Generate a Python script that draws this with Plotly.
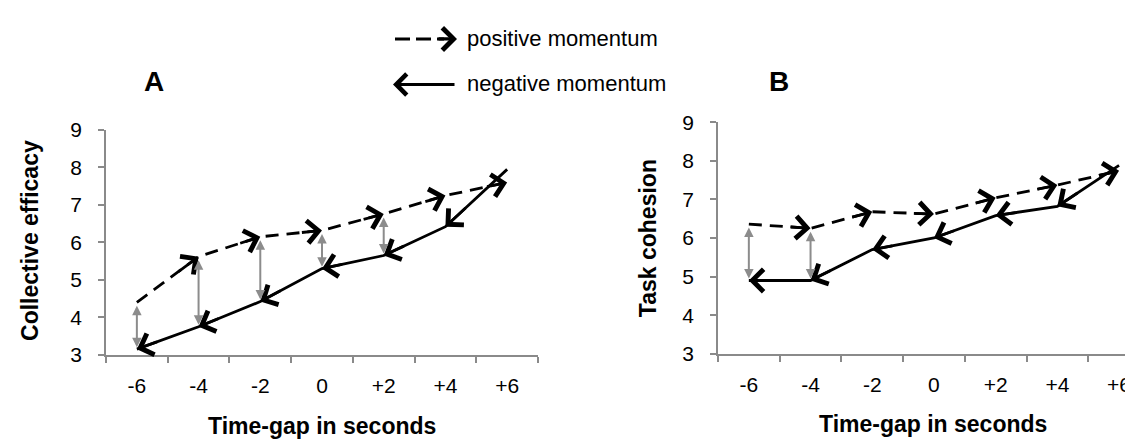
import plotly.graph_objects as go

# ---------------- data ----------------
categories = ["-6", "-4", "-2", "0", "+2", "+4", "+6"]
y_tick_values = [3, 4, 5, 6, 7, 8, 9]

a_positive = [4.40, 5.62, 6.15, 6.32, 6.76, 7.25, 7.60]
a_negative = [3.15, 3.75, 4.42, 5.30, 5.65, 6.42, 7.95]
a_gap_categories = ["-6", "-4", "-2", "0", "+2"]

b_positive = [6.36, 6.25, 6.68, 6.62, 7.04, 7.37, 7.74]
b_negative = [4.90, 4.90, 5.70, 6.00, 6.58, 6.82, 7.88]
b_gap_categories = ["-6", "-4"]

panel_labels = ["A", "B"]
y_titles = ["Collective efficacy", "Task cohesion"]
x_title = "Time-gap in seconds"
legend_labels = ["positive momentum", "negative momentum"]

# ---------------- layout constants ----------------
W, H = 1133, 446
FONT = "Liberation Sans, Arial, sans-serif"
AXIS_GREY = "#8a8a8a"
ARROW_GREY = "#8c8c8c"
DASH = "13px,8px"
CAT_PX = 61.7


def px_x(p):
    return p / W


def px_y(p):
    return 1 - p / H


fig = go.Figure()

panels = [
    dict(pos=a_positive, neg=a_negative, gaps=a_gap_categories, xa="x", ya="y"),
    dict(pos=b_positive, neg=b_negative, gaps=b_gap_categories, xa="x2", ya="y2"),
]

annotations = []
TINY = dict(size=2, color="black")
HEAD = dict(arrowhead=4, arrowwidth=2.8, arrowsize=1.55, arrowcolor="black")

for p in panels:
    fig.add_trace(go.Scatter(
        x=categories, y=p["pos"], mode="lines", xaxis=p["xa"], yaxis=p["ya"],
        line=dict(color="black", width=2.8, dash=DASH), cliponaxis=False,
        showlegend=False, hoverinfo="skip"))
    fig.add_trace(go.Scatter(
        x=categories, y=p["neg"], mode="lines", xaxis=p["xa"], yaxis=p["ya"],
        line=dict(color="black", width=2.8), cliponaxis=False,
        showlegend=False, hoverinfo="skip"))

    n = len(categories)
    f = 0.35
    for i in range(1, n):
        tip = (i, p["pos"][i])
        prev = (i - 1, p["pos"][i - 1])
        annotations.append(dict(
            x=tip[0], y=tip[1], ax=tip[0] + f * (prev[0] - tip[0]),
            ay=tip[1] + f * (prev[1] - tip[1]),
            xref=p["xa"], yref=p["ya"], axref=p["xa"], ayref=p["ya"],
            text="", font=TINY, showarrow=True, **HEAD))
    for i in range(n - 2, -1, -1):
        tip = (i, p["neg"][i])
        prev = (i + 1, p["neg"][i + 1])
        annotations.append(dict(
            x=tip[0], y=tip[1], ax=tip[0] + f * (prev[0] - tip[0]),
            ay=tip[1] + f * (prev[1] - tip[1]),
            xref=p["xa"], yref=p["ya"], axref=p["xa"], ayref=p["ya"],
            text="", font=TINY, showarrow=True, **HEAD))
    for c in p["gaps"]:
        i = categories.index(c)
        annotations.append(dict(
            x=i, y=p["neg"][i], ax=i, ay=p["pos"][i],
            xref=p["xa"], yref=p["ya"], axref=p["xa"], ayref=p["ya"],
            text="", font=TINY, showarrow=True, arrowside="end+start",
            arrowhead=2, startarrowhead=2, arrowwidth=2,
            arrowsize=0.95, startarrowsize=0.95,
            standoff=2, startstandoff=2, arrowcolor=ARROW_GREY))

axis_common = dict(showline=True, linecolor=AXIS_GREY, linewidth=1.5,
                   ticks="outside", ticklen=6, tickwidth=1.5, tickcolor=AXIS_GREY,
                   showgrid=False, zeroline=False,
                   tickfont=dict(family=FONT, size=21, color="black"))

fig.update_layout(
    width=W, height=H, autosize=False,
    margin=dict(l=0, r=0, t=0, b=0),
    paper_bgcolor="white", plot_bgcolor="white",
    showlegend=False,
    xaxis=dict(domain=[px_x(98), px_x(530)], anchor="y", type="category",
               categoryorder="array", categoryarray=categories,
               tickson="boundaries", range=[-0.5, len(categories) - 0.5],
               ticklabelstandoff=11, **axis_common),
    yaxis=dict(domain=[px_y(353), px_y(116)], anchor="x", range=[3, 9],
               tickvals=y_tick_values, ticklabelstandoff=12, **axis_common),
    xaxis2=dict(domain=[px_x(710), 1.0], anchor="y2", type="category",
                categoryorder="array", categoryarray=categories,
                tickson="boundaries", range=[-0.5, -0.5 + (W - 710) / CAT_PX],
                ticklabelstandoff=11, **axis_common),
    yaxis2=dict(domain=[px_y(352), px_y(107.7)], anchor="x2", range=[3, 9],
                tickvals=y_tick_values, ticklabelstandoff=12, **axis_common),
)

text_anns = [
    dict(x=px_x(146), y=px_y(65), text="<b>%s</b>" % panel_labels[0], size=28),
    dict(x=px_x(771), y=px_y(65), text="<b>%s</b>" % panel_labels[1], size=28),
    dict(x=px_x(314), y=px_y(428), text="<b>%s</b>" % x_title, size=23),
    dict(x=px_x(925), y=px_y(426), text="<b>%s</b>" % x_title, size=23),
    dict(x=px_x(22), y=px_y(233), text="<b>%s</b>" % y_titles[0], size=23, angle=-90),
    dict(x=px_x(640), y=px_y(230), text="<b>%s</b>" % y_titles[1], size=23, angle=-90),
]
for t in text_anns:
    annotations.append(dict(
        x=t["x"], y=t["y"], xref="paper", yref="paper", text=t["text"],
        showarrow=False, xanchor="center", yanchor="middle",
        textangle=t.get("angle", 0),
        font=dict(family=FONT, size=t["size"], color="black")))

annotations.append(dict(x=px_x(457), y=px_y(20), xref="paper", yref="paper",
                        text=legend_labels[0], showarrow=False, xanchor="left",
                        yanchor="middle", font=dict(family=FONT, size=22, color="black")))
annotations.append(dict(x=px_x(457), y=px_y(67), xref="paper", yref="paper",
                        text=legend_labels[1], showarrow=False, xanchor="left",
                        yanchor="middle", font=dict(family=FONT, size=22, color="black")))
annotations.append(dict(x=px_x(449), y=px_y(20), xref="paper", yref="paper",
                        ax=-20, ay=0, text="", font=TINY, showarrow=True,
                        arrowhead=4, arrowwidth=3.2, arrowsize=1.35, arrowcolor="black"))
annotations.append(dict(x=px_x(385), y=px_y(68), xref="paper", yref="paper",
                        ax=63, ay=0, text="", font=TINY, showarrow=True,
                        arrowhead=4, arrowwidth=3, arrowsize=1.35, arrowcolor="black"))

fig.add_shape(type="line", xref="paper", yref="paper",
              x0=px_x(387), x1=px_x(436), y0=px_y(20), y1=px_y(20),
              line=dict(color="black", width=3, dash="15px,6px"))

fig.update_layout(annotations=annotations)

fig.write_html("out.html")
